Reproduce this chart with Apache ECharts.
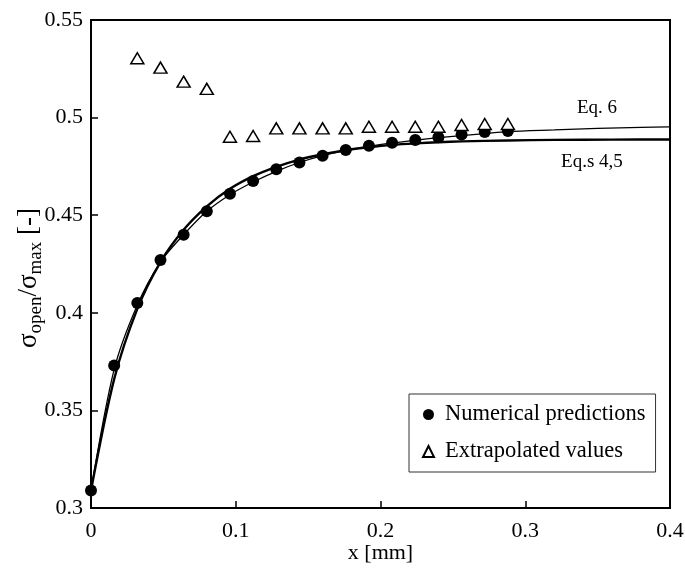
<!DOCTYPE html>
<html>
<head>
<meta charset="utf-8">
<script src="https://cdn.jsdelivr.net/npm/echarts@6/dist/echarts.min.js"></script>
<style>html,body{margin:0;padding:0;background:#fff}#c{width:685px;height:568px}</style>
</head>
<body>
<div id="c"></div>
<script>
// ---- data ----
const xNumerical = [0, 0.016, 0.032, 0.048, 0.064, 0.080, 0.096, 0.112, 0.128, 0.144, 0.160, 0.176, 0.192, 0.208, 0.224, 0.240, 0.256, 0.272, 0.288];
const numerical = [0.309, 0.373, 0.405, 0.427, 0.440, 0.452, 0.461, 0.4675, 0.4735, 0.477, 0.4805, 0.4834, 0.4856, 0.4871, 0.4885, 0.4899, 0.4914, 0.4926, 0.4931];

const xExtrapolated = [0.032, 0.048, 0.064, 0.080, 0.096, 0.112, 0.128, 0.144, 0.160, 0.176, 0.192, 0.208, 0.224, 0.240, 0.256, 0.272, 0.288];
const extrapolated = [0.5304, 0.5256, 0.5184, 0.5147, 0.4902, 0.4906, 0.4945, 0.4945, 0.4945, 0.4945, 0.4953, 0.4953, 0.4953, 0.4953, 0.4962, 0.4967, 0.4967];

const xEq45 = [0, 0.016, 0.032, 0.048, 0.064, 0.080, 0.096, 0.112, 0.128, 0.144, 0.160, 0.176, 0.192, 0.208, 0.224, 0.240, 0.256, 0.288, 0.32, 0.36, 0.40];
const eq45 = [0.309, 0.366, 0.402, 0.426, 0.4425, 0.4545, 0.4635, 0.470, 0.4748, 0.4785, 0.4812, 0.4833, 0.4848, 0.4860, 0.4868, 0.4874, 0.4878, 0.4883, 0.4886, 0.4887, 0.4888];

const xEq6 = [0, 0.016, 0.032, 0.048, 0.064, 0.080, 0.096, 0.112, 0.128, 0.144, 0.160, 0.176, 0.192, 0.208, 0.224, 0.240, 0.256, 0.272, 0.288, 0.32, 0.35, 0.38, 0.40];
const eq6 = [0.309, 0.371, 0.404, 0.426, 0.440, 0.452, 0.4605, 0.467, 0.4725, 0.477, 0.4805, 0.4832, 0.4853, 0.487, 0.4884, 0.4897, 0.4908, 0.4918, 0.4928, 0.4937, 0.4945, 0.495, 0.4952];

const xTicks = { min: 0, max: 0.4, interval: 0.1 };
const yTicks = { min: 0.3, max: 0.55, interval: 0.05 };

const curveLabels = [
  { name: 'Eq. 6', x: 0.3496, y: 0.5049 },
  { name: 'Eq.s 4,5', x: 0.3461, y: 0.4773 }
];
const seriesNames = ['Numerical predictions', 'Extrapolated values'];
// --------------------------------------

const FONT = '"Liberation Serif", "DejaVu Serif", serif';
const zip = (xs, ys) => xs.map((x, i) => [x, ys[i]]);

const chart = echarts.init(document.getElementById('c'), null, { renderer: 'canvas' });
chart.setOption({
  animation: false,
  backgroundColor: '#fff',
  textStyle: { fontFamily: FONT, color: '#000' },
  grid: { left: 91, right: 15, top: 20, bottom: 60, show: true, borderColor: '#000', borderWidth: 2,
    backgroundColor: 'transparent', containLabel: false, outerBoundsMode: 'none' },
  xAxis: {
    type: 'value', min: xTicks.min, max: xTicks.max, interval: xTicks.interval,
    name: 'x [mm]', nameLocation: 'middle', nameGap: 34, nameMoveOverlap: false,
    nameTextStyle: { fontFamily: FONT, fontSize: 22, color: '#000' },
    axisLine: { show: true, lineStyle: { color: '#000', width: 2 } },
    axisTick: { show: true, inside: true, length: 7, lineStyle: { color: '#000', width: 1.5 } },
    axisLabel: { fontFamily: FONT, fontSize: 22, color: '#000', margin: 12,
      formatter: v => (v === 0 ? '0' : String(+v.toFixed(2))) },
    splitLine: { show: false }
  },
  yAxis: {
    type: 'value', min: yTicks.min, max: yTicks.max, interval: yTicks.interval,
    name: '{s|σ}{sub|open}{s|/σ}{sub|max}{s| [-]}', nameLocation: 'middle', nameGap: 45, nameMoveOverlap: false,
    nameTextStyle: {
      fontFamily: FONT, color: '#000', padding: [0, 28, 0, 0],
      rich: {
        s: { fontFamily: FONT, fontSize: 27, color: '#000', lineHeight: 34 },
        sub: { fontFamily: FONT, fontSize: 19, color: '#000', lineHeight: 34, padding: [14, 0, 0, 0] }
      }
    },
    axisLine: { show: true, lineStyle: { color: '#000', width: 2 } },
    axisTick: { show: true, inside: true, length: 7, lineStyle: { color: '#000', width: 1.5 } },
    axisLabel: { fontFamily: FONT, fontSize: 22, color: '#000', margin: 8,
      formatter: v => String(+v.toFixed(2)) },
    splitLine: { show: false }
  },
  legend: {
    data: [
      { name: seriesNames[0], icon: 'circle' },
      { name: seriesNames[1], icon: 'triangle' }
    ],
    orient: 'vertical', left: 409, top: 394,
    backgroundColor: '#fff', borderColor: '#333', borderWidth: 1,
    padding: [9, 10, 9, 13], itemGap: 14, itemWidth: 11, itemHeight: 11,
    textStyle: { fontFamily: FONT, fontSize: 22.5, color: '#000', padding: [0, 0, 0, 6] }
  },
  series: [
    {
      name: 'Eq.s 4,5', type: 'line', data: zip(xEq45, eq45), smooth: 0.3, showSymbol: false,
      lineStyle: { color: '#000', width: 2.4 }, z: 2, silent: true,
      markPoint: { symbol: 'circle', symbolSize: 0, data: [{ coord: [curveLabels[1].x, curveLabels[1].y],
        label: { show: true, position: 'inside', formatter: curveLabels[1].name, fontFamily: FONT, fontSize: 19, color: '#000' } }] }
    },
    {
      name: 'Eq. 6', type: 'line', data: zip(xEq6, eq6), smooth: 0.3, showSymbol: false,
      lineStyle: { color: '#000', width: 1.3 }, z: 2, silent: true,
      markPoint: { symbol: 'circle', symbolSize: 0, data: [{ coord: [curveLabels[0].x, curveLabels[0].y],
        label: { show: true, position: 'inside', formatter: curveLabels[0].name, fontFamily: FONT, fontSize: 19, color: '#000' } }] }
    },
    {
      name: seriesNames[0], type: 'scatter', data: zip(xNumerical, numerical),
      symbol: 'circle', symbolSize: 12, itemStyle: { color: '#000', opacity: 1 }, z: 4
    },
    {
      name: seriesNames[1], type: 'scatter', data: zip(xExtrapolated, extrapolated),
      symbol: 'triangle', symbolSize: [13, 11],
      itemStyle: { color: '#fff', borderColor: '#000', borderWidth: 1.5, opacity: 1 }, z: 4
    }
  ]
});
</script>
</body>
</html>
